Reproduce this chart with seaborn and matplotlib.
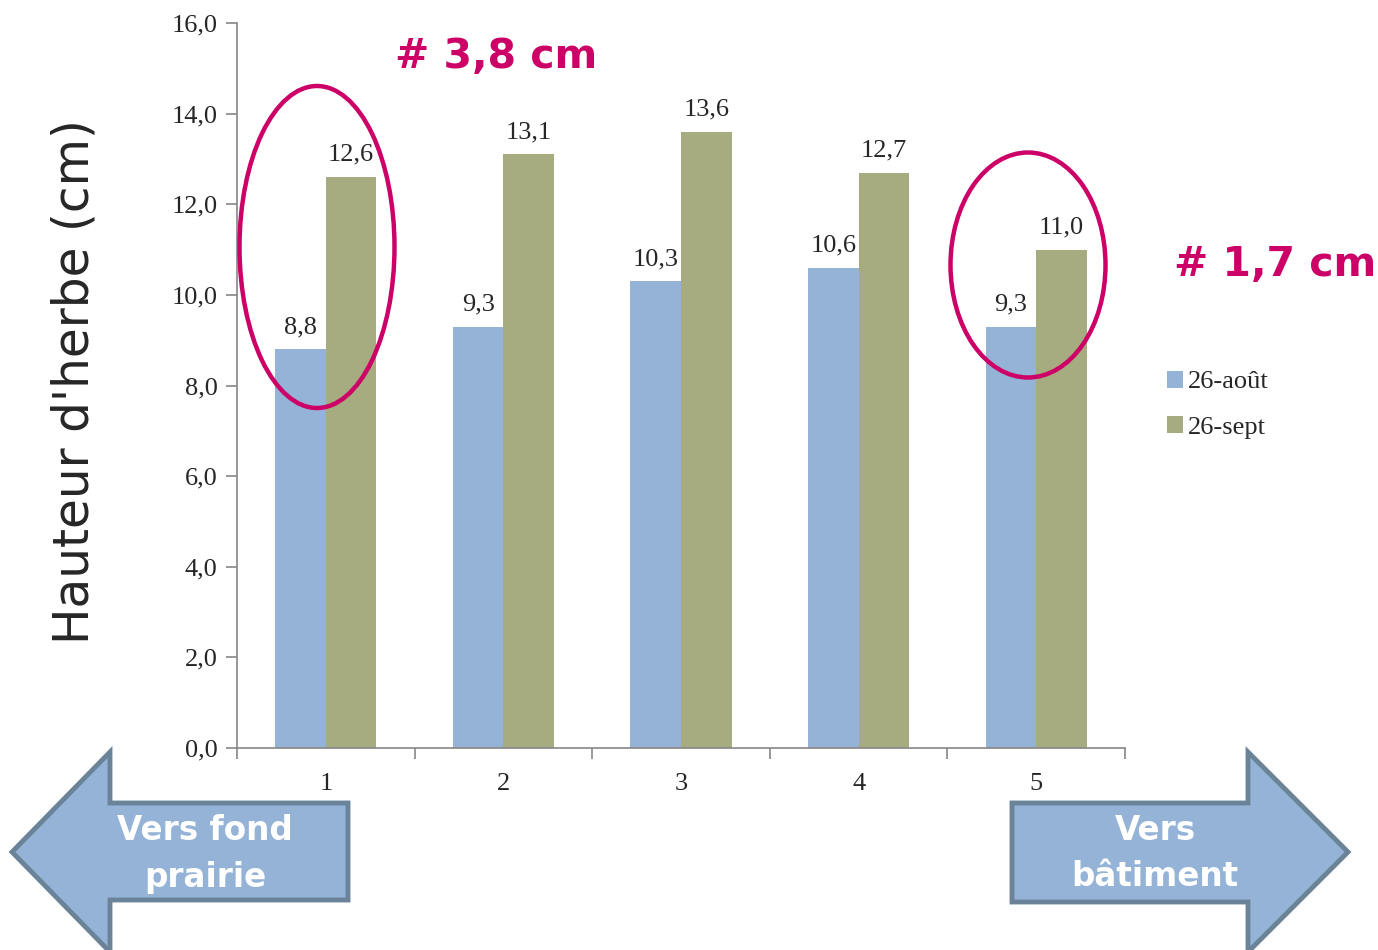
import matplotlib
matplotlib.use("Agg")
import matplotlib.pyplot as plt
from matplotlib.patches import Ellipse, Polygon
from matplotlib.ticker import FuncFormatter, FixedLocator
import seaborn as sns
import pandas as pd

# ---------- Data ----------
zones = ["1", "2", "3", "4", "5"]
aout = [8.8, 9.3, 10.3, 10.6, 9.3]
sept = [12.6, 13.1, 13.6, 12.7, 11.0]
series = ["26-août", "26-sept"]
colors = ["#95B3D7", "#A6AC7F"]

df = pd.DataFrame({
    "Zone": zones * 2,
    "Hauteur": aout + sept,
    "Date": [series[0]] * len(zones) + [series[1]] * len(zones),
})

sns.set_style("white")
plt.rcParams["font.family"] = ["Liberation Serif", "DejaVu Serif"]

W, H = 1378, 950
fig = plt.figure(figsize=(W / 100, H / 100), dpi=100)


def fx(x):
    return x / W


def fy(y):
    return 1 - y / H


ax = fig.add_axes([fx(237), fy(748), fx(1125) - fx(237), fy(23) - fy(748)])

sns.barplot(data=df, x="Zone", y="Hauteur", hue="Date", palette=colors,
            saturation=1, width=0.57, linewidth=0, ax=ax, legend=True)

ax.set_ylim(0, 16)
ax.set_xlim(-0.5, 4.5)
ax.set_yticks([0, 2, 4, 6, 8, 10, 12, 14, 16])
ax.yaxis.set_major_formatter(FuncFormatter(lambda v, p: f"{v:.1f}".replace(".", ",")))
ax.tick_params(axis="y", labelsize=19, length=8, width=1.2, color="#868686", direction="out", left=True, pad=6)
ax.tick_params(axis="x", labelsize=19, length=0, pad=18)
ax.xaxis.set_minor_locator(FixedLocator([-0.5, 0.5, 1.5, 2.5, 3.5, 4.5]))
ax.tick_params(axis="x", which="minor", length=8, width=1.2, color="#868686", direction="out", bottom=True)
ax.set_xlabel("")
ax.set_ylabel("")
for s in ["top", "right"]:
    ax.spines[s].set_visible(False)
for s in ["left", "bottom"]:
    ax.spines[s].set_color("#868686")
    ax.spines[s].set_linewidth(1.2)

# data labels
for cont in ax.containers:
    ax.bar_label(cont, labels=[f"{b.get_height():.1f}".replace(".", ",") for b in cont],
                 padding=8, fontsize=19)

# legend
handles, labels = ax.get_legend_handles_labels()
fig.legend(handles, labels, loc="upper left", bbox_to_anchor=(fx(1143), fy(347)),
           frameon=False, fontsize=19, handlelength=0.6, handleheight=0.6,
           handletextpad=0.2, labelspacing=0.85)
ax.get_legend().remove()

# y label
fig.text(fx(75), fy(382), "Hauteur d'herbe (cm)", rotation=90, ha="center", va="center",
         fontsize=35, family="DejaVu Sans")

# ellipses highlighting differences
pink = "#CC0066"
fig.add_artist(Ellipse((fx(317), fy(247)), fx(155), 322 / H, fill=False,
                       edgecolor=pink, linewidth=3.2, transform=fig.transFigure))
fig.add_artist(Ellipse((fx(1028), fy(265)), fx(155), 225 / H, fill=False,
                       edgecolor=pink, linewidth=3.2, transform=fig.transFigure))
fig.text(fx(496), fy(57), "# 3,8 cm", ha="center", va="center", fontsize=29.5,
         fontweight="bold", color=pink, family="DejaVu Sans")
fig.text(fx(1275), fy(265), "# 1,7 cm", ha="center", va="center", fontsize=29.5,
         fontweight="bold", color=pink, family="DejaVu Sans")

# arrows
arrow_fill = "#95B3D7"
arrow_edge = "#6A8399"
left_pts = [(12, 852), (110, 752), (110, 803), (348, 803), (348, 900), (110, 900), (110, 952)]
right_pts = [(1348, 852), (1248, 752), (1248, 803), (1012, 803), (1012, 902), (1248, 902), (1248, 952)]
for pts in (left_pts, right_pts):
    fig.add_artist(Polygon([(fx(x), fy(y)) for x, y in pts], closed=True,
                           facecolor=arrow_fill, edgecolor=arrow_edge, linewidth=3.5,
                           transform=fig.transFigure))
fig.text(fx(205), fy(854), "Vers fond\nprairie", ha="center", va="center", fontsize=23.5,
         fontweight="bold", color="white", family="DejaVu Sans", linespacing=1.5)
fig.text(fx(1155), fy(854), "Vers\nbâtiment", ha="center", va="center", fontsize=23.5,
         fontweight="bold", color="white", family="DejaVu Sans", linespacing=1.5)

fig.savefig("out.png", dpi=100)
